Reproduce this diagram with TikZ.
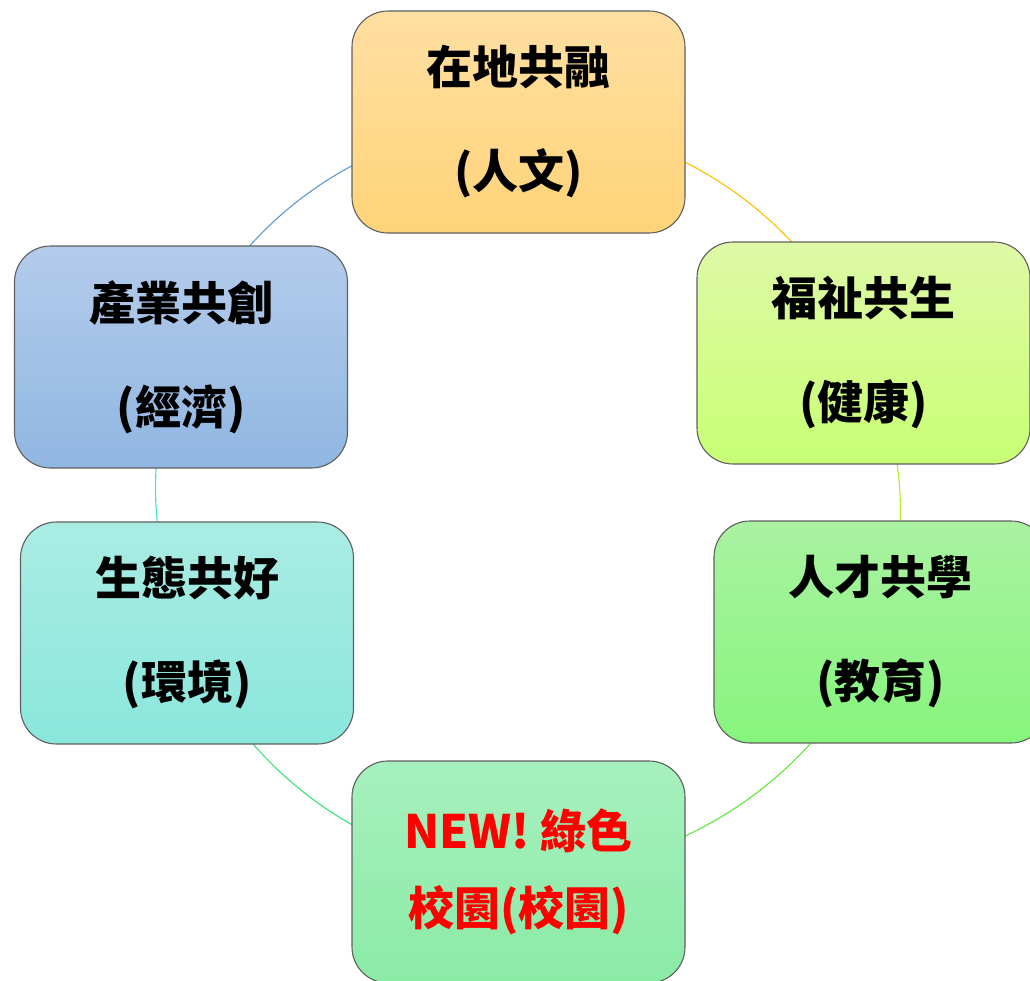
\documentclass[tikz,border=0pt]{standalone}
\usepackage{fontspec}
\newfontfamily\cjk{Noto Sans CJK TC}
\pgfdeclarelayer{bg}
\pgfsetlayers{bg,main}
\definecolor{bordergray}{RGB}{95,95,95}
\definecolor{c1t}{RGB}{255,223,162}\definecolor{c1b}{RGB}{255,211,120}
\definecolor{c2t}{RGB}{222,249,166}\definecolor{c2b}{RGB}{200,255,116}
\definecolor{c3t}{RGB}{170,242,162}\definecolor{c3b}{RGB}{134,245,124}
\definecolor{c4t}{RGB}{167,240,190}\definecolor{c4b}{RGB}{138,235,166}
\definecolor{c5t}{RGB}{170,236,227}\definecolor{c5b}{RGB}{138,231,221}
\definecolor{c6t}{RGB}{180,204,235}\definecolor{c6b}{RGB}{144,182,226}
\definecolor{a1}{RGB}{255,192,0}
\definecolor{a2}{RGB}{176,238,30}
\definecolor{a3}{RGB}{92,232,60}
\definecolor{a4}{RGB}{60,226,122}
\definecolor{a5}{RGB}{64,224,208}
\definecolor{a6}{RGB}{91,155,213}
\definecolor{newred}{RGB}{255,0,0}
\tikzset{
  card/.style={rectangle, rounded corners=36pt, minimum width=333pt, minimum height=222pt,
    inner sep=0pt, draw=bordergray, line width=1.1pt, align=center,
    font=\cjk\bfseries\fontsize{46pt}{104pt}\selectfont},
  cardred/.style={card, text=newred, font=\cjk\bfseries\fontsize{46pt}{77pt}\selectfont},
  link/.style={line width=1.1pt, looseness=0.92}
}
\begin{document}
\begin{tikzpicture}[x=1pt,y=-1pt]
\useasboundingbox (0,0) rectangle (1030,980);
\clip (0,0) rectangle (1030,980);
\node[card, top color=c1t, bottom color=c1b] (top) at (518.5,122) {在地共融\\(人文)};
\node[card, top color=c2t, bottom color=c2b] (ru) at (863.5,353) {福祉共生\\(健康)};
\node[card, top color=c3t, bottom color=c3b] (rl) at (880.5,632) {人才共學\\(教育)};
\node[cardred, top color=c4t, bottom color=c4b] (bot) at (518.5,872) {NEW! 綠色\\校園(校園)};
\node[card, top color=c5t, bottom color=c5b] (ll) at (187,633) {生態共好\\(環境)};
\node[card, top color=c6t, bottom color=c6b] (lu) at (181,357) {產業共創\\(經濟)};
\begin{pgfonlayer}{bg}
\draw[link, a1] (top.center) to[bend left=33.7] (ru.center);
\draw[link, a2] (ru.center) to[bend left=21.7] (rl.center);
\draw[link, a3] (rl.center) to[bend left=34.6] (bot.center);
\draw[link, a4] (bot.center) to[bend left=33.8] (ll.center);
\draw[link, a5] (ll.center) to[bend left=22.4] (lu.center);
\draw[link, a6] (lu.center) to[bend left=33.8] (top.center);
\end{pgfonlayer}
\end{tikzpicture}
\end{document}
